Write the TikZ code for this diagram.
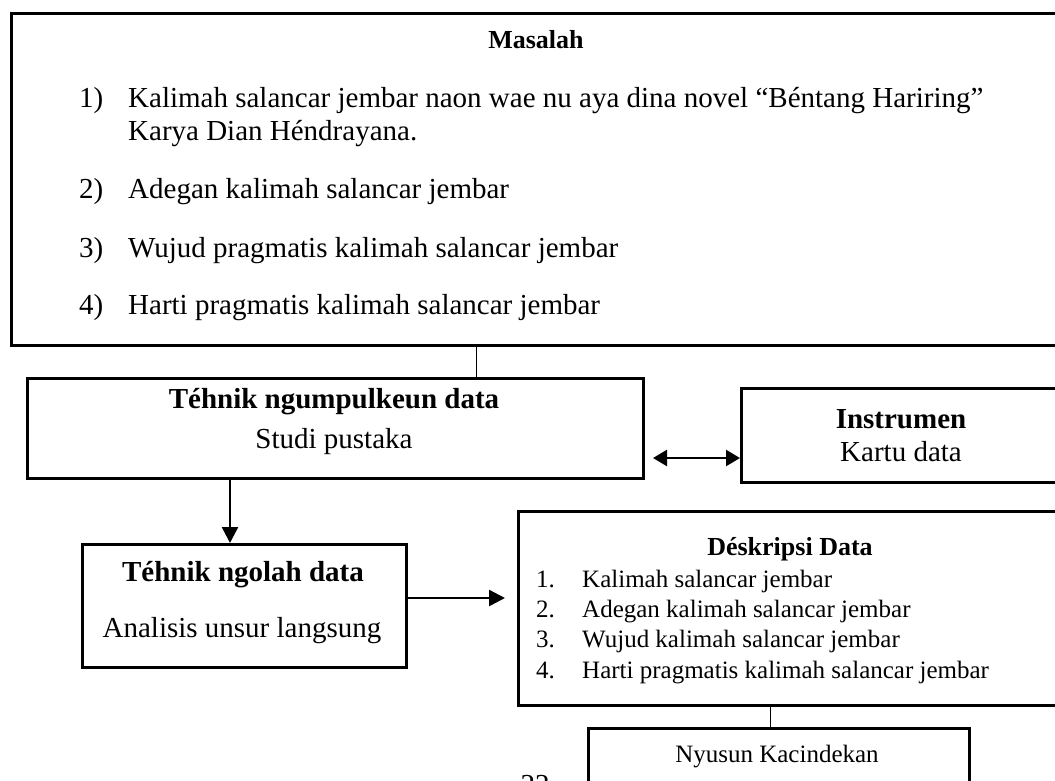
\documentclass[tikz,border=0pt]{standalone}
\usepackage{fontspec}
\setmainfont{Liberation Serif}
\usetikzlibrary{arrows.meta}

\tikzset{
    frame/.style 2 args={draw,line width=2.6pt,anchor=north west,inner sep=0pt,minimum width=#1,minimum height=#2},
    big/.style={inner sep=0pt,anchor=base,font=\fontsize{29}{34}\selectfont},
    bigleft/.style={big,anchor=base west},
    small/.style={inner sep=0pt,anchor=base,font=\fontsize{25}{30}\selectfont},
    smallleft/.style={small,anchor=base west},
    link/.style={line width=1pt},
    arr/.style={line width=2.4pt,-{Triangle[length=16pt,width=16pt]}},
    arrboth/.style={line width=2.4pt,{Triangle[length=14pt,width=16pt]}-{Triangle[length=14pt,width=16pt]}}
}

\begin{document}
\begin{tikzpicture}[x=1pt,y=-1pt]
        \useasboundingbox (0,0) rectangle (1055,780);
        \clip (0,0) rectangle (1055,780);

        % boxes
        \node[frame={1100pt}{332pt}] (masalah) at (10,12) {};
        \node[frame={616pt}{100pt}] (kumpul) at (26,377) {};
        \node[frame={400pt}{94pt}] (instrumen) at (740,387) {};
        \node[frame={324pt}{123pt}] (olah) at (81,543) {};
        \node[frame={600pt}{194pt}] (deskripsi) at (517,510) {};
        \node[frame={381pt}{100pt}] (nyusun) at (587,727) {};

        % Masalah
        \node[big,font=\fontsize{26}{30}\selectfont\bfseries] (masalahT) at (536,48) {Masalah};
        \node[bigleft] (m1n) at (79,107) {1)};
        \node[bigleft] (m1) at (128,107) {Kalimah salancar jembar naon wae nu aya dina novel “Béntang Hariring”};
        \node[bigleft] (m1b) at (128,140) {Karya Dian Héndrayana.};
        \node[bigleft] (m2n) at (79,198) {2)};
        \node[bigleft] (m2) at (128,198) {Adegan kalimah salancar jembar};
        \node[bigleft] (m3n) at (79,257) {3)};
        \node[bigleft] (m3) at (128,257) {Wujud pragmatis kalimah salancar jembar};
        \node[bigleft] (m4n) at (79,314) {4)};
        \node[bigleft] (m4) at (128,314) {Harti pragmatis kalimah salancar jembar};

        % tengah
        \node[big,font=\fontsize{29}{34}\selectfont\bfseries] (kumpulT) at (334,408) {Téhnik ngumpulkeun data};
        \node[big] (kumpulS) at (334,448) {Studi pustaka};
        \node[big,font=\fontsize{29}{34}\selectfont\bfseries] (instrumenT) at (901,428) {Instrumen};
        \node[big] (instrumenS) at (901,461) {Kartu data};
        \node[big,font=\fontsize{29}{34}\selectfont\bfseries] (olahT) at (243,581) {Téhnik ngolah data};
        \node[big] (olahS) at (242,637) {Analisis unsur langsung};

        % Deskripsi
        \node[small,font=\fontsize{26}{30}\selectfont\bfseries] (deskripsiT) at (790,555) {Déskripsi Data};
        \node[smallleft] (d1n) at (536,587) {1.};
        \node[smallleft] (d1) at (582,587) {Kalimah salancar jembar};
        \node[smallleft] (d2n) at (536,617) {2.};
        \node[smallleft] (d2) at (582,617) {Adegan kalimah salancar jembar};
        \node[smallleft] (d3n) at (536,647) {3.};
        \node[smallleft] (d3) at (582,647) {Wujud kalimah salancar jembar};
        \node[smallleft] (d4n) at (536,678) {4.};
        \node[smallleft] (d4) at (582,678) {Harti pragmatis kalimah salancar jembar};

        \node[small] (nyusunT) at (777,762) {Nyusun Kacindekan};
        \node[big] (kaca) at (535,794) {22};

        % connectors
        \coordinate (c1) at (476,0);
        \coordinate (c2) at (230,0);
        \coordinate (gap) at (653,458);
        \coordinate (tip) at (505,598);
        \coordinate (c5) at (770,0);
        \draw[link] (masalah.south -| c1) -- (kumpul.north -| c1);
        \draw[arr] (kumpul.south -| c2) -- (olah.north -| c2);
        \draw[arrboth] (gap) -- (instrumen.west |- gap);
        \draw[arr] (olah.east |- tip) -- (tip);
        \draw[link] (deskripsi.south -| c5) -- (nyusun.north -| c5);
    \end{tikzpicture}
\end{document}
